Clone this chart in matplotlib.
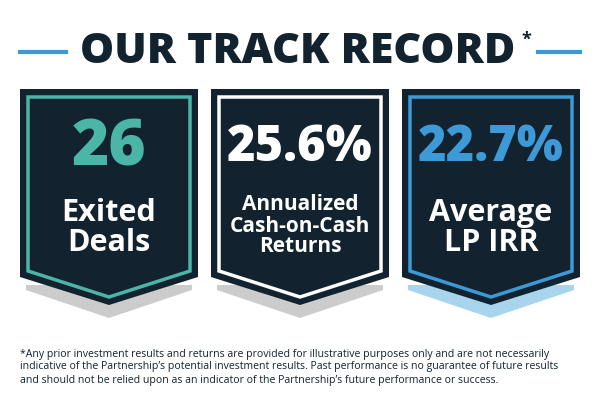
import matplotlib
matplotlib.use("Agg")
import matplotlib.pyplot as plt
from matplotlib.patches import Polygon

title = "OUR TRACK RECORD"
values = ["26", "25.6%", "22.7%"]
labels = ["Exited\nDeals", "Annualized\nCash-on-Cash\nReturns", "Average\nLP IRR"]
accents = ["#4bb5a8", "#ffffff", "#3d9ad6"]
shadows = ["#cccccc", "#cccccc", "#a9d4ee"]
footnote = ("*Any prior investment results and returns are provided for illustrative purposes only and are not necessarily\n"
            "indicative of the Partnership\u2019s potential investment results. Past performance is no guarantee of future results\n"
            "and should not be relied upon as an indicator of the Partnership\u2019s future performance or success.")

navy = "#12232f"
plt.rcParams['font.family'] = ['Open Sans', 'DejaVu Sans']
fig = plt.figure(figsize=(6, 4), dpi=100)
ax = fig.add_axes([0, 0, 1, 1])
ax.set_xlim(0, 600); ax.set_ylim(400, 0); ax.axis("off")

ax.text(298, 52, title, ha="center", va="center", fontsize=31, fontweight="heavy", color=navy)
ax.text(526, 40, "*", ha="center", va="center", fontsize=13, fontweight="bold", color=navy)
ax.plot([20, 66], [52, 52], color="#3d9ad6", lw=3)
ax.plot([538, 580], [52, 52], color="#3d9ad6", lw=3)

lefts = [20, 211, 402]
w = 178
for x0, v, lab, ac, sh in zip(lefts, values, labels, accents, shadows):
    cx = x0 + w / 2
    ax.add_patch(Polygon([(x0 + 6, 285), (x0 + w - 6, 285), (x0 + w - 6, 290), (cx, 318), (x0 + 6, 290)],
                         closed=True, color=sh, lw=0))
    ax.add_patch(Polygon([(x0, 89), (x0 + w, 89), (x0 + w, 277), (cx, 305), (x0, 277)],
                         closed=True, color=navy, lw=0))
    i = 8
    ax.add_patch(Polygon([(x0 + i, 97), (x0 + w - i, 97), (x0 + w - i, 271), (cx, 297), (x0 + i, 271)],
                         closed=True, fill=False, ec=ac, lw=2.5))
    ax.text(cx, 148, v, ha="center", va="center", fontsize=35 if len(v) > 2 else 46,
            fontweight="heavy", color=ac)
    nl = lab.count("\n") + 1
    ax.text(cx, 228 if nl == 2 else 226, lab, ha="center", va="center",
            fontsize=22 if nl == 2 else 15, fontweight="bold", color="white", linespacing=1.0)

ax.text(20, 367, footnote, ha="left", va="center", fontsize=7.6, color=navy, linespacing=1.25)
fig.savefig("out.png", dpi=100)
